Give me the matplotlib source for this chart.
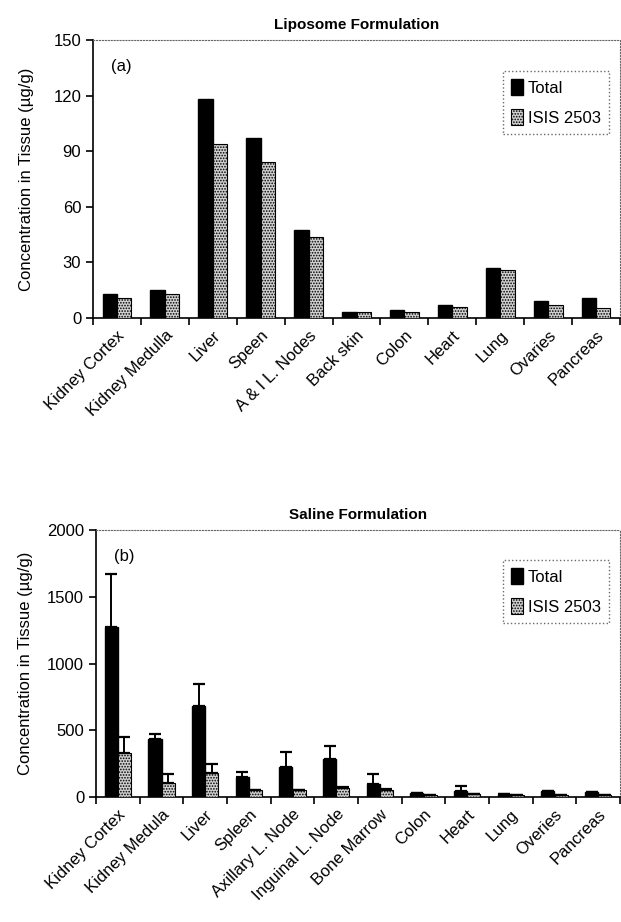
import matplotlib
matplotlib.use("Agg")
import matplotlib.pyplot as plt
import numpy as np

plt.rcParams["font.family"] = ["Liberation Sans", "DejaVu Sans"]
plt.rcParams["hatch.color"] = "#555555"
plt.rcParams["hatch.linewidth"] = 0.8

# (a) liposome formulation
lipo_tissues = ["Kidney Cortex", "Kidney Medulla", "Liver", "Speen", "A & I L. Nodes",
                "Back skin", "Colon", "Heart", "Lung", "Ovaries", "Pancreas"]
lipo_total = [13, 15, 118, 97, 47.5, 3, 4.5, 7, 27, 9, 11]
lipo_isis = [11, 13, 94, 84, 43.5, 3, 3.5, 6, 26, 7, 5.5]

# (b) saline formulation
sal_tissues = ["Kidney Cortex", "Kidney Medula", "Liver", "Spleen", "Axillary L. Node",
               "Inguinal L. Node", "Bone Marrow", "Colon", "Heart", "Lung", "Overies", "Pancreas"]
sal_total = [1270, 433, 683, 148, 225, 283, 95, 30, 45, 22, 42, 35]
sal_total_err = [400, 42, 167, 42, 110, 102, 80, 0, 40, 0, 0, 0]
sal_isis = [332, 103, 178, 50, 52, 70, 55, 18, 20, 15, 15, 15]
sal_isis_err = [118, 72, 67, 0, 0, 8, 5, 0, 0, 0, 0, 0]

YLABEL = "Concentration in Tissue (\u00b5g/g)"


def draw_panel(ax, names, total, isis, ymax, yticks, title, tag,
               total_err=None, isis_err=None, legend_anchor=(1.0, 0.93), labelpad=6):
    x = np.arange(len(names))
    w = 0.3
    ekw = dict(capsize=4, ecolor="black", elinewidth=1.4, capthick=1.6)
    terr = None if total_err is None else [np.zeros(len(x)), total_err]
    ierr = None if isis_err is None else [np.zeros(len(x)), isis_err]
    ax.bar(x + 0.5 - w / 2, total, w, color="black", edgecolor="black",
           yerr=terr, error_kw=ekw, label="Total", zorder=3)
    ax.bar(x + 0.5 + w / 2, isis, w, color="#d0d0d0", edgecolor="black",
           linewidth=0.8, hatch="......", yerr=ierr, error_kw=ekw,
           label="ISIS 2503", zorder=3)

    ax.set_xlim(0, len(names))
    ax.set_ylim(0, ymax)
    ax.set_yticks(yticks)
    ax.set_xticks(np.arange(len(names) + 1))
    ax.set_xticklabels([])
    ax.set_xticks(x + 0.5, minor=True)
    ax.set_xticklabels(names, minor=True, rotation=45, ha="right",
                       rotation_mode="anchor", fontsize=12)
    ax.tick_params(axis="x", which="minor", length=0, pad=7)
    ax.tick_params(axis="x", which="major", length=5, width=1.2, direction="out")
    ax.tick_params(axis="y", length=5, width=1.2, labelsize=12, direction="out")

    for side in ("top", "right"):
        ax.spines[side].set_linestyle(":")
        ax.spines[side].set_color("#666666")
        ax.spines[side].set_linewidth(0.8)
    ax.spines["left"].set_linewidth(1.2)
    ax.spines["bottom"].set_linewidth(1.2)

    ax.set_title(title, fontsize=11, fontweight="bold", pad=8)
    ax.set_ylabel(YLABEL, fontsize=12, labelpad=labelpad)
    ax.text(0.035, 0.93, tag, transform=ax.transAxes, fontsize=12, va="top")

    leg = ax.legend(loc="upper right", bbox_to_anchor=legend_anchor, fontsize=12,
                    frameon=True, fancybox=False, handlelength=0.7, handleheight=1.1,
                    handletextpad=0.3, borderpad=0.5, labelspacing=0.8)
    leg.get_frame().set_edgecolor("#444444")
    leg.get_frame().set_linestyle(":")
    leg.get_frame().set_linewidth(1.0)


fig = plt.figure(figsize=(6.21, 9.22), dpi=100)
ax_a = fig.add_axes([93 / 621, 1 - 318 / 922, 527 / 621, 278 / 922])
ax_b = fig.add_axes([96 / 621, 1 - 797 / 922, 524 / 621, 267 / 922])

draw_panel(ax_a, lipo_tissues, lipo_total, lipo_isis, 150, [0, 30, 60, 90, 120, 150],
           "Liposome Formulation", "(a)", legend_anchor=(0.995, 0.92), labelpad=14)
draw_panel(ax_b, sal_tissues, sal_total, sal_isis, 2000, [0, 500, 1000, 1500, 2000],
           "Saline Formulation", "(b)", total_err=sal_total_err, isis_err=sal_isis_err,
           legend_anchor=(0.995, 0.92), labelpad=10)

fig.savefig("out.png", dpi=100)
